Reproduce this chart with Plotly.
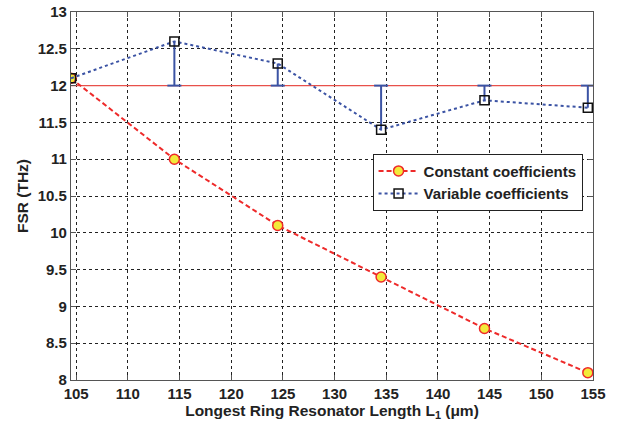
import plotly.graph_objects as go

lengths = [104.5, 114.5, 124.5, 134.5, 144.5, 154.5]
constant_fsr = [12.1, 11.0, 10.1, 9.4, 8.7, 8.1]
variable_fsr = [12.1, 12.6, 12.3, 11.4, 11.8, 11.7]
target_fsr = 12.0
x_range = [104.5, 155]
y_range = [8, 13]
x_ticks = [105, 110, 115, 120, 125, 130, 135, 140, 145, 150, 155]
y_ticks = [8, 8.5, 9, 9.5, 10, 10.5, 11, 11.5, 12, 12.5, 13]

fig = go.Figure()

# target line
fig.add_trace(go.Scatter(x=x_range, y=[target_fsr, target_fsr], mode="lines",
                         line=dict(color="#e8504a", width=1.2), showlegend=False, hoverinfo="skip"))

# stems from each variable point to the target
sx, sy = [], []
for x, v in zip(lengths[1:], variable_fsr[1:]):
    sx += [x, x, None]
    sy += [v, target_fsr, None]
fig.add_trace(go.Scatter(x=sx, y=sy, mode="lines", line=dict(color="#3b53a4", width=2),
                         showlegend=False, hoverinfo="skip"))
fig.add_trace(go.Scatter(x=lengths[1:], y=[target_fsr] * (len(lengths) - 1), mode="markers",
                         marker=dict(symbol="line-ew", size=10, line=dict(color="#3b53a4", width=2)),
                         showlegend=False, hoverinfo="skip"))

fig.add_trace(go.Scatter(x=lengths, y=constant_fsr, mode="lines+markers", name="Constant coefficients",
                         line=dict(color="#ee2a2a", width=2, dash="5px,3px"),
                         marker=dict(symbol="circle", size=10, color="#f2ea3a",
                                     line=dict(color="#ee2a2a", width=1.5))))
fig.add_trace(go.Scatter(x=lengths, y=variable_fsr, mode="lines+markers", name="Variable coefficients",
                         line=dict(color="#3b53a4", width=2, dash="dot"),
                         marker=dict(symbol="square-open", size=9, color="#111111",
                                     line=dict(color="#111111", width=1.5))))

axis_common = dict(showline=True, linecolor="#555555", linewidth=1.2, mirror="ticks",
                   ticks="inside", ticklen=5, tickcolor="#555555",
                   showgrid=True, gridcolor="#222222", griddash="3px,3px", gridwidth=1,
                   zeroline=False, automargin=False,
                   tickfont=dict(family="Liberation Sans", size=15, color="#222222", weight="bold"))
title_font = dict(family="Liberation Sans", size=15.5, color="#222222", weight="bold")

fig.update_xaxes(range=x_range, tickvals=x_ticks, ticktext=[str(t) for t in x_ticks],
                 title=dict(text="Longest Ring Resonator Length L<sub>1</sub> (μm)", standoff=3,
                            font=title_font),
                 **axis_common)
fig.update_yaxes(range=y_range, tickvals=y_ticks, ticktext=[f"{t:g}" for t in y_ticks],
                 title=dict(text="FSR (THz)", standoff=5, font=title_font),
                 **axis_common)

fig.update_layout(template="none", width=619, height=427, margin=dict(l=71, r=26, t=12, b=47),
                  plot_bgcolor="white", paper_bgcolor="white",
                  legend=dict(x=0.98, y=0.615, xanchor="right", yanchor="top",
                              bgcolor="white", bordercolor="#222222", borderwidth=1,
                              font=dict(family="Liberation Sans", size=15, color="#222222", weight="bold"),
                              tracegroupgap=0, itemwidth=40))

fig.write_html("out.html", config={"displayModeBar": False},
               post_script="document.body.style.margin='0';")
